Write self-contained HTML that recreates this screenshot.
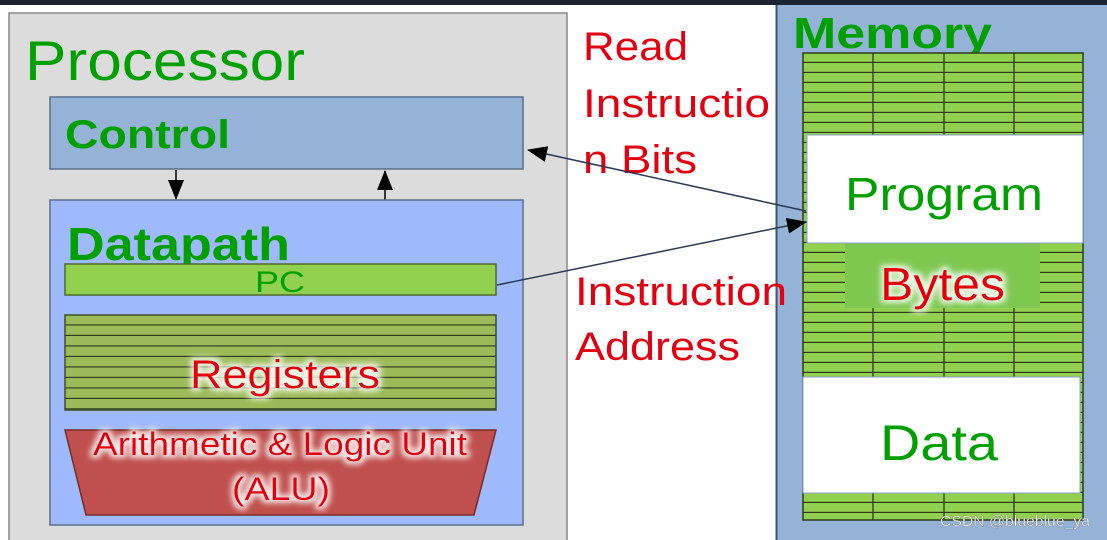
<!DOCTYPE html>
<html><head><meta charset="utf-8"><style>
html,body{margin:0;padding:0;background:#fff;}
svg{display:block;}
text{font-family:"Liberation Sans",sans-serif;}
</style></head><body>
<svg width="1107" height="540" viewBox="0 0 1107 540" xmlns="http://www.w3.org/2000/svg">
<defs>
<pattern id="hs" x="0" y="315" width="20" height="10.5" patternUnits="userSpaceOnUse">
<rect width="20" height="10.5" fill="#9bbb59"/><rect y="9.3" width="20" height="1.3" fill="#2f3d1e"/></pattern>
<pattern id="ms" x="0" y="53" width="20" height="10" patternUnits="userSpaceOnUse">
<rect width="20" height="10" fill="#92d050"/><rect y="8.8" width="20" height="1.3" fill="#2c3a1a"/></pattern>
<filter id="glow" x="-20%" y="-40%" width="140%" height="180%">
<feMorphology in="SourceAlpha" operator="dilate" radius="3" result="d"/>
<feGaussianBlur in="d" stdDeviation="3" result="b"/>
<feFlood flood-color="#ffffff" flood-opacity="0.85"/>
<feComposite in2="b" operator="in" result="g"/>
<feMerge><feMergeNode in="g"/><feMergeNode in="SourceGraphic"/></feMerge></filter>
<marker id="ah2" markerWidth="20" markerHeight="16" refX="19" refY="8" orient="auto" markerUnits="userSpaceOnUse" viewBox="0 0 20 16">
<path d="M0,0 L20,8 L0,16 z" fill="#000"/></marker>
</defs>
<rect width="1107" height="540" fill="#fff"/>
<rect x="0" y="0" width="1107" height="5" fill="#1c2431"/>
<rect x="9" y="13" width="558" height="530" fill="#dcdcdc" stroke="#8a8a8a" stroke-width="1.5"/>
<text x="25" y="80" font-size="56" fill="#00a000" textLength="280" lengthAdjust="spacingAndGlyphs">Processor</text>
<rect x="50" y="97" width="473" height="72" fill="#95b3d7" stroke="#5a6f8a" stroke-width="1.5"/>
<text x="65" y="148" font-size="40" font-weight="bold" fill="#00a000" textLength="165" lengthAdjust="spacingAndGlyphs">Control</text>
<line x1="176" y1="170" x2="176" y2="199" stroke="#000" stroke-width="1.5" marker-end="url(#ah2)"/>
<line x1="385" y1="200" x2="385" y2="171" stroke="#000" stroke-width="1.5" marker-end="url(#ah2)"/>
<rect x="50" y="200" width="473" height="325" fill="#9fb9fd" stroke="#5a6f8a" stroke-width="1.5"/>
<text x="67" y="260" font-size="46" font-weight="bold" fill="#00a000" textLength="223" lengthAdjust="spacingAndGlyphs">Datapath</text>
<rect x="65" y="264" width="431" height="31" fill="#92d050" stroke="#4e6b2a" stroke-width="1.5"/>
<text x="255" y="292" font-size="30" fill="#00a000" textLength="50" lengthAdjust="spacingAndGlyphs">PC</text>
<rect x="65" y="315" width="431" height="95" fill="url(#hs)" stroke="#3e5024" stroke-width="1.5"/>
<text x="190" y="388" font-size="40" fill="#e30010" filter="url(#glow)" textLength="190" lengthAdjust="spacingAndGlyphs">Registers</text>
<polygon points="65,430 496,430 474,515 86,515" fill="#c0504d" stroke="#7a2a28" stroke-width="1.5"/>
<text x="93" y="455" font-size="32" fill="#e30010" filter="url(#glow)" textLength="374" lengthAdjust="spacingAndGlyphs">Arithmetic &amp; Logic Unit</text>
<text x="232" y="500" font-size="32" fill="#e30010" filter="url(#glow)" textLength="98" lengthAdjust="spacingAndGlyphs">(ALU)</text>
<rect x="777" y="5" width="332" height="540" fill="#95b3d7"/>
<line x1="776.5" y1="5" x2="776.5" y2="540" stroke="#44546a" stroke-width="2"/>
<g font-size="40" fill="#e30010">
<text x="583" y="60" textLength="105" lengthAdjust="spacingAndGlyphs">Read</text>
<text x="583" y="117" textLength="187" lengthAdjust="spacingAndGlyphs">Instructio</text>
<text x="583" y="173" textLength="114" lengthAdjust="spacingAndGlyphs">n Bits</text>
<text x="575" y="305" textLength="212" lengthAdjust="spacingAndGlyphs">Instruction</text>
<text x="575" y="360" textLength="165" lengthAdjust="spacingAndGlyphs">Address</text>
</g>
<text x="793" y="48" font-size="44" font-weight="bold" fill="#00a000" textLength="199" lengthAdjust="spacingAndGlyphs">Memory</text>
<rect x="803" y="53" width="280" height="467" fill="url(#ms)" stroke="#2c3a1a" stroke-width="1.5"/>
<g stroke="#2c3a1a" stroke-width="1.3">
<line x1="873" y1="53" x2="873" y2="520"/><line x1="944" y1="53" x2="944" y2="520"/><line x1="1014" y1="53" x2="1014" y2="520"/>
</g>
<rect x="845" y="243" width="195" height="65" fill="#7ec850"/>
<rect x="807" y="135" width="276" height="108" fill="#fff" stroke="#8aa0d0" stroke-width="1"/>
<text x="845" y="210" font-size="46" fill="#00a000" textLength="198" lengthAdjust="spacingAndGlyphs">Program</text>
<text x="880" y="300" font-size="46" fill="#e30010" filter="url(#glow)" textLength="125" lengthAdjust="spacingAndGlyphs">Bytes</text>
<rect x="803" y="377" width="277" height="116" fill="#fff" stroke="#8aa0d0" stroke-width="1"/>
<text x="880" y="460" font-size="50" fill="#00a000" textLength="118" lengthAdjust="spacingAndGlyphs">Data</text>
<text x="940" y="526" font-size="15" fill="#fff" stroke="#666" stroke-width="0.3" textLength="150" lengthAdjust="spacingAndGlyphs">CSDN @blueblue_ya</text>
<line x1="806" y1="211" x2="528" y2="150" stroke="#2a3a55" stroke-width="1.5" marker-end="url(#ah2)"/>
<line x1="497" y1="285" x2="806" y2="222" stroke="#2a3a55" stroke-width="1.5" marker-end="url(#ah2)"/>
</svg>
</body></html>
